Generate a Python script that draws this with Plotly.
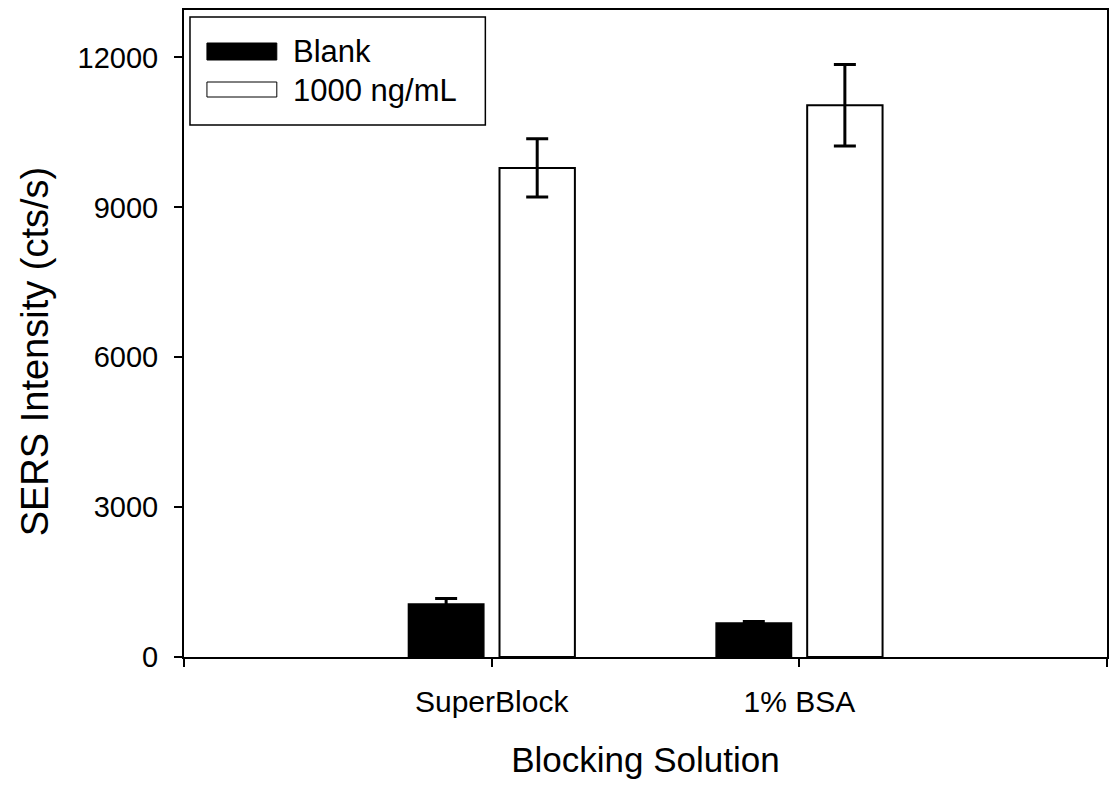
import plotly.graph_objects as go

categories = ["SuperBlock", "1% BSA"]
blank_vals = [1060, 680]
blank_err = [110, 30]
conc_vals = [9790, 11044]
conc_err = [585, 815]
series_names = ["Blank", "1000 ng/mL"]
y_ticks = [0, 3000, 6000, 9000, 12000]
x_title = "Blocking Solution"
y_title = "SERS Intensity (cts/s)"

cat_pos = [i + 1 for i in range(len(categories))]
off = 0.148
bw = 0.245

fig = go.Figure()
fig.add_trace(go.Bar(
    x=[p - off for p in cat_pos], y=blank_vals, width=bw, name=series_names[0],
    marker=dict(color="black", line=dict(color="black", width=1.5)),
    error_y=dict(type="data", array=blank_err, color="black", thickness=3, width=11),
    showlegend=False))
fig.add_trace(go.Bar(
    x=[p + off for p in cat_pos], y=conc_vals, width=bw, name=series_names[1],
    marker=dict(color="white", line=dict(color="black", width=2)),
    error_y=dict(type="data", array=conc_err, color="black", thickness=3, width=11),
    showlegend=False))

font_family = "Liberation Sans, Arial, sans-serif"

fig.update_layout(
    width=1112, height=789,
    margin=dict(l=184, r=3, t=10, b=132),
    paper_bgcolor="white", plot_bgcolor="white",
    font=dict(family=font_family, color="black"),
    barmode="overlay",
    xaxis=dict(
        range=[0, 3], tickvals=[0] + cat_pos + [3],
        ticktext=[""] + categories + [""],
        ticks="outside", ticklen=8, tickwidth=2, tickcolor="black",
        ticklabelstandoff=9,
        showline=True, linecolor="black", linewidth=2, mirror=True,
        showgrid=False, zeroline=False,
        tickfont=dict(size=30, family=font_family),
        title=dict(text=x_title, font=dict(size=35, family=font_family), standoff=30),
    ),
    yaxis=dict(
        range=[0, 12950], tickvals=y_ticks, ticktext=[str(v) for v in y_ticks],
        ticks="outside", ticklen=8, tickwidth=2, tickcolor="black",
        ticklabelstandoff=10,
        showline=True, linecolor="black", linewidth=2, mirror=True,
        showgrid=False, zeroline=False,
        tickfont=dict(size=29, family=font_family),
    ),
)

# y-axis title placed as rotated annotation
fig.add_annotation(xref="paper", yref="paper", x=(35 - 184) / 925, y=(657 - 351) / 647,
                   text=y_title, textangle=-90, showarrow=False,
                   xanchor="center", yanchor="middle",
                   font=dict(size=38, family=font_family, color="black"))

# custom legend
def px_x(px):
    return (px - 184) / 925

def px_y(py):
    return (657 - py) / 647

fig.add_shape(type="rect", xref="paper", yref="paper",
              x0=px_x(190), x1=px_x(486), y0=px_y(125), y1=px_y(17),
              line=dict(color="black", width=1.5), fillcolor="white")
fig.add_shape(type="rect", xref="paper", yref="paper",
              x0=px_x(207), x1=px_x(277), y0=px_y(60), y1=px_y(43),
              line=dict(color="black", width=1), fillcolor="black")
fig.add_shape(type="rect", xref="paper", yref="paper",
              x0=px_x(207), x1=px_x(277), y0=px_y(97), y1=px_y(82),
              line=dict(color="black", width=1), fillcolor="white")
fig.add_annotation(xref="paper", yref="paper", x=px_x(291), y=px_y(52),
                   text=series_names[0], showarrow=False, xanchor="left", yanchor="middle",
                   font=dict(size=31, family=font_family, color="black"))
fig.add_annotation(xref="paper", yref="paper", x=px_x(291), y=px_y(90),
                   text=series_names[1], showarrow=False, xanchor="left", yanchor="middle",
                   font=dict(size=31, family=font_family, color="black"))

fig.write_html("out.html")
